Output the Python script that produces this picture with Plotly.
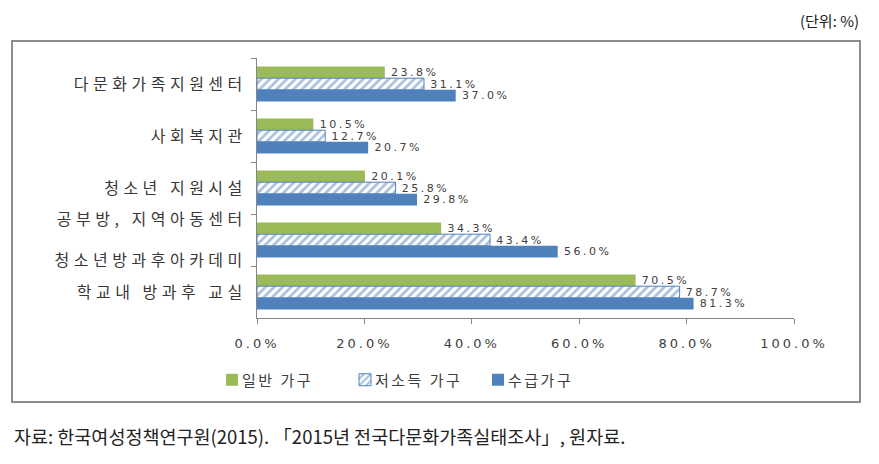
import plotly.graph_objects as go

categories = ["다문화가족지원센터", "사회복지관", "청소년 지원시설", "공부방, 지역아동센터<br> <br>청소년방과후아카데미", "학교내 방과후 교실"]
series_names = ["일반 가구", "저소득 가구", "수급가구"]
general = [23.8, 10.5, 20.1, 34.3, 70.5]
low_income = [31.1, 12.7, 25.8, 43.4, 78.7]
recipient = [37.0, 20.7, 29.8, 56.0, 81.3]
x_ticks = [0, 20, 40, 60, 80, 100]
x_tick_labels = ["0.0%", "20.0%", "40.0%", "60.0%", "80.0%", "100.0%"]

GREEN = "#9BBB59"
BLUE = "#4F81BD"
FONT = "Noto Sans CJK KR"
NUMFONT = "DejaVu Sans"

# plot area in figure pixels
L, R, T, B = 249, 786, 50, 310
PW, PH = R - L, B - T

def px(x):
    return (x - L) / PW

def py(y):
    return (B - y) / PH

label_tpl = "\u00a0\u00a0%{x:.1f}%"

fig = go.Figure()
fig.add_trace(go.Bar(
    y=categories, x=general, name=series_names[0], orientation="h",
    marker=dict(color=GREEN, line=dict(width=0)),
    texttemplate=label_tpl, textposition="outside", constraintext="none",
    textfont=dict(family=NUMFONT, size=11, color="#404040"), cliponaxis=False,
))
fig.add_trace(go.Bar(
    y=categories, x=low_income, name=series_names[1], orientation="h",
    marker=dict(color="white", line=dict(color=BLUE, width=1),
                pattern=dict(shape="/", fgcolor=BLUE, bgcolor="white", size=6, solidity=0.45)),
    texttemplate=label_tpl, textposition="outside", constraintext="none",
    textfont=dict(family=NUMFONT, size=11, color="#404040"), cliponaxis=False,
))
fig.add_trace(go.Bar(
    y=categories, x=recipient, name=series_names[2], orientation="h",
    marker=dict(color=BLUE, line=dict(width=0)),
    texttemplate=label_tpl, textposition="outside", constraintext="none",
    textfont=dict(family=NUMFONT, size=11, color="#404040"), cliponaxis=False,
))

fig.update_layout(
    width=879, height=464,
    margin=dict(l=L, r=879 - R, t=T, b=464 - B),
    paper_bgcolor="white", plot_bgcolor="white",
    barmode="group", bargap=0.33, bargroupgap=0,
    font=dict(family=FONT, size=13, color="#404040"),
    showlegend=True,
    legend=dict(orientation="h", x=px(204), xanchor="left", y=py(372), yanchor="middle",
                font=dict(family=FONT, size=15, color="#404040"), traceorder="normal",
                itemwidth=30, entrywidth=88, entrywidthmode="pixels"),
    xaxis=dict(range=[0, 100], tickvals=x_ticks, ticktext=x_tick_labels,
               showgrid=False, zeroline=False, showline=True, linecolor="#868686",
               ticks="outside", ticklen=5, tickcolor="#868686", ticklabelstandoff=8,
               tickfont=dict(family=NUMFONT, size=13, color="#404040")),
    yaxis=dict(autorange="reversed", showgrid=False, showline=True, linecolor="#868686",
               ticks="outside", ticklen=5, tickcolor="#868686", tickson="boundaries",
               tickfont=dict(family=FONT, size=16, color="#383838"), ticklabelstandoff=6),
    shapes=[dict(type="rect", xref="paper", yref="paper",
                 x0=px(4), x1=px(852), y0=py(394), y1=py(33),
                 line=dict(color="#8c8c8c", width=2), fillcolor="rgba(0,0,0,0)", layer="below")],
    annotations=[
        dict(text="(단위: %)", xref="paper", yref="paper", x=px(853), y=py(12),
             xanchor="right", yanchor="middle", showarrow=False,
             font=dict(family=FONT, size=15, color="#222222")),
        dict(text="자료: 한국여성정책연구원(2015). 「2015년 전국다문화가족실태조사」, 원자료.",
             xref="paper", yref="paper", x=px(4), y=py(428),
             xanchor="left", yanchor="middle", showarrow=False,
             font=dict(family=FONT, size=18.5, color="#222222")),
    ],
)

css = (".ytick text{letter-spacing:4.5px}"
       ".xtick text{letter-spacing:3px}"
       "text.bartext{letter-spacing:2.5px}"
       ".legendtext{letter-spacing:2.5px;transform:translateX(-10px)}")
post = ("var s=document.createElement('style');s.textContent='" + css +
        "';document.head.appendChild(s);")

fig.write_html("out.html", post_script=post)
